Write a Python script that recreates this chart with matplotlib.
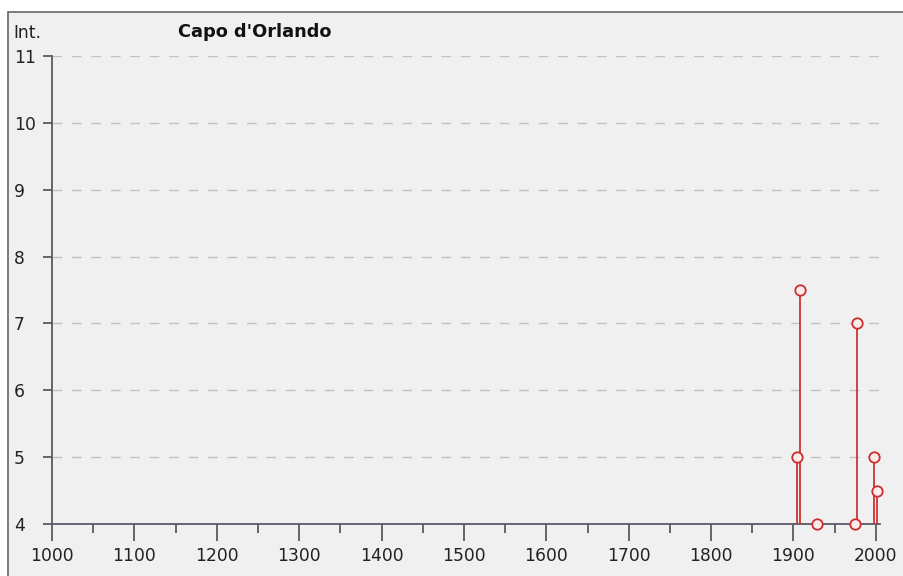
import matplotlib
matplotlib.use("Agg")
import matplotlib.pyplot as plt
from matplotlib.patches import Rectangle
from matplotlib.ticker import MultipleLocator

# Data: year of event and intensity observed at the locality
years = [1904, 1908, 1929, 1975, 1977, 1998, 2001]
intensity = [5, 7.5, 4, 4, 7, 5, 4.5]

TITLE = "Capo d'Orlando"
Y_LABEL = "Int."
X_TICKS = list(range(1000, 2001, 100))
Y_TICKS = list(range(4, 12))

BG = "#f0f0f0"
AXIS = "#5a5a66"
RED = "#cc2e2e"
PX = 72 / 100  # points per pixel

plt.rcParams["font.family"] = ["DejaVu Sans"]

fig = plt.figure(figsize=(9.04, 5.76), dpi=100)
fig.patch.set_facecolor("white")

# panel frame (runs off the right and bottom edges)
frame = Rectangle((8 / 904, -0.02), 1.0, 1.02 - 12 / 576, transform=fig.transFigure,
                  facecolor=BG, edgecolor="#666666", linewidth=1.2, zorder=-10)
fig.patches.append(frame)

ax = fig.add_axes([52 / 904, 52 / 576, (880 - 52) / 904, (524 - 56) / 576])
ax.set_facecolor("none")
ax.set_zorder(1)

ax.set_xlim(1000, 2005)
ax.set_ylim(4, 11)

for s in ("top", "right"):
    ax.spines[s].set_visible(False)
for s in ("left", "bottom"):
    ax.spines[s].set_color(AXIS)
    ax.spines[s].set_linewidth(1.3)

ax.set_xticks(X_TICKS)
ax.xaxis.set_minor_locator(MultipleLocator(50))
ax.set_yticks(Y_TICKS)
ax.tick_params(axis="x", which="major", length=17 * PX, width=1.3, color=AXIS,
               labelsize=12.3, pad=4, labelcolor="#222222")
ax.tick_params(axis="x", which="minor", length=9 * PX, width=1.3, color=AXIS)
ax.tick_params(axis="y", which="major", length=9 * PX, width=1.3, color=AXIS,
               labelsize=12.3, pad=(52 - 9 - 14) * PX, labelcolor="#222222")
for lbl in ax.get_yticklabels():
    lbl.set_horizontalalignment("left")
    lbl.set_verticalalignment("center_baseline")

# dashed grid lines
for yv in Y_TICKS[1:]:
    ax.axhline(yv, color="#c2c2c2", linewidth=1.0, dashes=(7, 7), zorder=1)

# stems
ax.vlines(years, 4, intensity, color=RED, linewidth=1.4, alpha=0.9, zorder=3)
ax.plot(years, intensity, linestyle="none", marker="o", markersize=7.5,
        markerfacecolor="#fbecec", markeredgecolor=RED, markeredgewidth=1.3,
        zorder=4, clip_on=False)

fig.text(13 / 904, 1 - 33 / 576, Y_LABEL, fontsize=12.3, va="center",
         ha="left", color="#222222")
fig.text(178 / 904, 1 - 32 / 576, TITLE, fontsize=12.8, fontweight="bold",
         va="center", ha="left", color="#111111")

fig.savefig("out.png", dpi=100, facecolor=fig.get_facecolor())
